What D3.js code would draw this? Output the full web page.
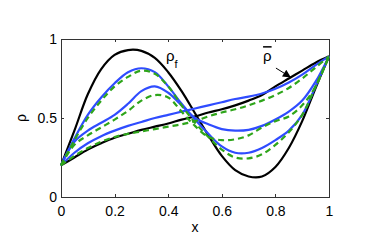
<!DOCTYPE html>
<html>
<head>
<meta charset="utf-8">
<script src="https://cdn.jsdelivr.net/npm/d3@7"></script>
<style>
  body { margin: 0; background: #fff; }
  svg { display: block; }
  text { font-family: "Liberation Sans", Arial, sans-serif; fill: #000; }
  .axis path, .axis line { stroke: #333; shape-rendering: crispEdges; }
  .axis text { font-size: 14px; fill: #000; }
</style>
</head>
<body>
<svg width="384" height="248"></svg>
<script>
const xs = [0, 0.05, 0.1, 0.15, 0.2, 0.25, 0.3, 0.35, 0.4, 0.45, 0.5, 0.55, 0.6, 0.65, 0.7, 0.75, 0.8, 0.85, 0.9, 0.95, 1];
const rhoF = [0.20, 0.42, 0.65, 0.81, 0.90, 0.93, 0.925, 0.88, 0.79, 0.67, 0.53, 0.39, 0.26, 0.17, 0.13, 0.13, 0.19, 0.31, 0.48, 0.69, 0.89];
const rhoBar = [0.20, 0.25, 0.30, 0.34, 0.375, 0.40, 0.425, 0.445, 0.465, 0.49, 0.51, 0.535, 0.555, 0.58, 0.61, 0.645, 0.70, 0.75, 0.80, 0.85, 0.89];
const blue1 = [0.20, 0.37, 0.52, 0.63, 0.72, 0.79, 0.815, 0.79, 0.70, 0.59, 0.49, 0.40, 0.32, 0.28, 0.28, 0.31, 0.36, 0.42, 0.52, 0.70, 0.89];
const blue2 = [0.20, 0.35, 0.42, 0.47, 0.52, 0.59, 0.67, 0.70, 0.66, 0.58, 0.50, 0.46, 0.43, 0.42, 0.425, 0.45, 0.49, 0.54, 0.61, 0.73, 0.89];
const blue3 = [0.20, 0.28, 0.34, 0.385, 0.42, 0.45, 0.475, 0.50, 0.52, 0.54, 0.56, 0.58, 0.60, 0.62, 0.635, 0.655, 0.685, 0.725, 0.775, 0.835, 0.89];
const green1 = [0.20, 0.36, 0.50, 0.61, 0.70, 0.76, 0.80, 0.78, 0.70, 0.58, 0.47, 0.38, 0.30, 0.25, 0.245, 0.27, 0.33, 0.41, 0.52, 0.70, 0.89];
const green2 = [0.20, 0.33, 0.39, 0.44, 0.49, 0.545, 0.61, 0.645, 0.63, 0.54, 0.45, 0.38, 0.36, 0.365, 0.39, 0.44, 0.48, 0.51, 0.58, 0.70, 0.89];
const green3 = [0.20, 0.26, 0.31, 0.35, 0.38, 0.40, 0.415, 0.43, 0.445, 0.46, 0.48, 0.51, 0.535, 0.555, 0.58, 0.61, 0.645, 0.69, 0.75, 0.82, 0.89];
const xTicks = [0, 0.2, 0.4, 0.6, 0.8, 1];
const yTicks = [0, 0.5, 1];

const margin = { top: 39, right: 55, bottom: 51, left: 61 };
const width = 384 - margin.left - margin.right;
const height = 248 - margin.top - margin.bottom;

const x = d3.scaleLinear().domain([0, 1]).range([0, width]);
const y = d3.scaleLinear().domain([0, 1]).range([height, 0]);

const svg = d3.select('svg')
  .append('g')
  .attr('transform', `translate(${margin.left}, ${margin.top})`);

const fmt = d => d3.format('~g')(d);

svg.append('g')
  .attr('class', 'axis')
  .attr('transform', `translate(0, ${height})`)
  .call(d3.axisBottom(x).tickValues(xTicks).tickFormat(fmt).tickSizeInner(-3).tickSizeOuter(0).tickPadding(9));

svg.append('g')
  .attr('class', 'axis')
  .call(d3.axisTop(x).tickValues(xTicks).tickFormat('').tickSizeInner(-3).tickSizeOuter(0));

svg.append('g')
  .attr('class', 'axis')
  .call(d3.axisLeft(y).tickValues(yTicks).tickFormat(fmt).tickSizeInner(-3).tickSizeOuter(0).tickPadding(4));

svg.append('g')
  .attr('class', 'axis')
  .attr('transform', `translate(${width}, 0)`)
  .call(d3.axisRight(y).tickValues(yTicks).tickFormat('').tickSizeInner(-3).tickSizeOuter(0));

svg.selectAll('.axis text').style('font-family', '"Liberation Sans", Arial, sans-serif');

const line = d3.line()
  .x((d, i) => x(xs[i]))
  .y(d => y(d))
  .curve(d3.curveCatmullRom.alpha(0.5));

const series = [
  { values: rhoF, color: '#000', dash: null },
  { values: rhoBar, color: '#000', dash: null },
  { values: blue1, color: '#2f4cff', dash: null },
  { values: blue2, color: '#2f4cff', dash: null },
  { values: blue3, color: '#2f4cff', dash: null },
  { values: green1, color: '#2ea51a', dash: '6,4' },
  { values: green2, color: '#2ea51a', dash: '6,4' },
  { values: green3, color: '#2ea51a', dash: '6,4' }
];

svg.selectAll('.curve')
  .data(series)
  .enter()
  .append('path')
  .attr('class', 'curve')
  .attr('d', d => line(d.values))
  .attr('fill', 'none')
  .attr('stroke', d => d.color)
  .attr('stroke-width', 2.2)
  .attr('stroke-dasharray', d => d.dash);

// labels
const lf = svg.append('text')
  .attr('x', x(0.392))
  .attr('y', y(0.86))
  .style('font-size', '15px');
lf.append('tspan').text('ρ');
lf.append('tspan').attr('dy', 7).style('font-size', '11px').text('f');

svg.append('text')
  .attr('x', x(0.754))
  .attr('y', y(0.86))
  .style('font-size', '15px')
  .style('text-decoration', 'overline')
  .text('ρ');

svg.append('defs').append('marker')
  .attr('id', 'head')
  .attr('viewBox', '0 0 10 10')
  .attr('refX', 10)
  .attr('refY', 5)
  .attr('markerWidth', 10)
  .attr('markerHeight', 8)
  .attr('markerUnits', 'userSpaceOnUse')
  .attr('orient', 'auto')
  .append('path')
  .attr('d', 'M0,0L10,5L0,10Z')
  .attr('fill', '#000');

svg.append('line')
  .attr('x1', x(0.802))
  .attr('y1', y(0.816))
  .attr('x2', x(0.858))
  .attr('y2', y(0.757))
  .attr('stroke', '#000')
  .attr('stroke-width', 1)
  .attr('marker-end', 'url(#head)');

svg.append('text')
  .attr('x', width / 2)
  .attr('y', height + 35)
  .attr('text-anchor', 'middle')
  .style('font-size', '14px')
  .text('x');

svg.append('text')
  .attr('transform', `translate(${26 - margin.left}, ${height / 2}) rotate(-90)`)
  .attr('text-anchor', 'middle')
  .style('font-size', '14px')
  .text('ρ');
</script>
</body>
</html>
